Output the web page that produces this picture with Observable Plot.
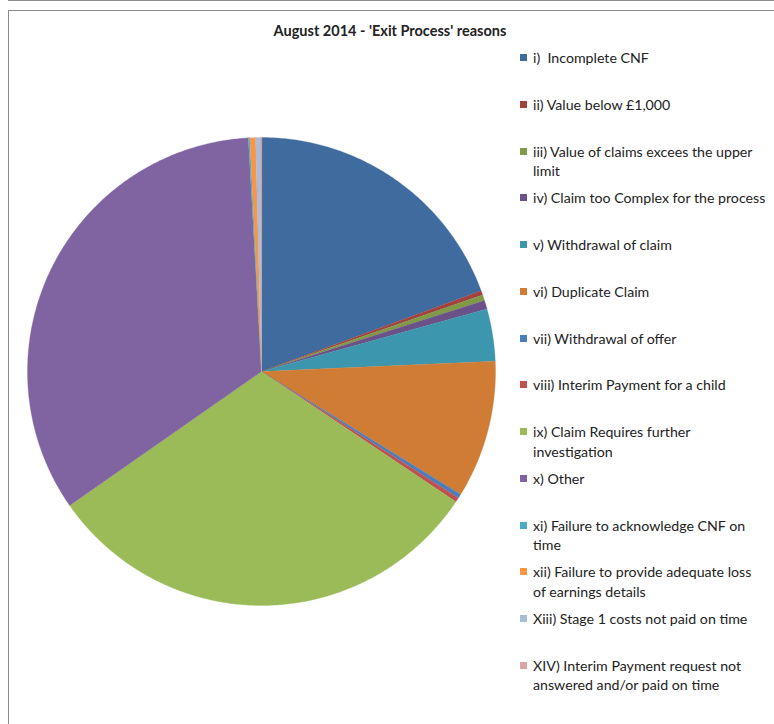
<!DOCTYPE html>
<html>
<head>
<meta charset="utf-8">
<script src="https://cdn.jsdelivr.net/npm/d3@7"></script>
<script src="https://cdn.jsdelivr.net/npm/@observablehq/plot@0.6"></script>
<style>
  html, body { margin: 0; padding: 0; background: #fff; }
  #wrap { position: relative; width: 774px; height: 724px; overflow: hidden; font-family: Lato, "Open Sans", sans-serif; color: #222; }
  .frame-top0 { position: absolute; left: 8px; top: 0; width: 766px; height: 0; border-top: 1px solid #8a8a8a; }
  .frame-top { position: absolute; left: 8px; top: 10px; width: 766px; height: 0; border-top: 1px solid #8a8a8a; }
  .frame-left { position: absolute; left: 8px; top: 10px; width: 0; height: 714px; border-left: 1px solid #8a8a8a; }
  #title { position: absolute; left: 0; width: 780px; top: 22px; text-align: center; font-weight: bold; font-size: 14.5px; }
  #pie { position: absolute; left: 21px; top: 131px; }
  .entry { position: absolute; left: 520px; font-size: 14.2px; line-height: 19.5px; }
  .entry .sw { position: absolute; left: 0; top: 6px; width: 7px; height: 7px; }
  .entry .tx { position: absolute; left: 13px; top: 0; white-space: pre; }
</style>
</head>
<body>
<div id="wrap">
  <div class="frame-top0"></div>
  <div class="frame-top"></div>
  <div class="frame-left"></div>
  <div id="title"></div>
  <div id="pie"></div>
  <div id="legend"></div>
</div>
<script>
const categories = [
  "i)  Incomplete CNF",
  "ii) Value below £1,000",
  "iii) Value of claims excees the upper\nlimit",
  "iv) Claim too Complex for the process",
  "v) Withdrawal of claim",
  "vi) Duplicate Claim",
  "vii) Withdrawal of offer",
  "viii) Interim Payment for a child",
  "ix) Claim Requires further\ninvestigation",
  "x) Other",
  "xi) Failure to acknowledge CNF on\ntime",
  "xii) Failure to provide adequate loss\nof earnings details",
  "Xiii) Stage 1 costs not paid on time",
  "XIV) Interim Payment request not\nanswered and/or paid on time"
];
const values = [19.4, 0.3, 0.4, 0.6, 3.6, 9.5, 0.3, 0.3, 30.9, 33.8, 0.1, 0.4, 0.3, 0.1];
const colors = ["#3F6B9F", "#A3423F", "#7F9B47", "#6A5289", "#3C97AE", "#D07C35",
                "#4A7EBB", "#C0504D", "#9BBB59", "#8064A2", "#4BACC6", "#F79646",
                "#A9BCD8", "#D9A7A6"];
const title = "August 2014 - 'Exit Process' reasons";
document.getElementById("title").textContent = title;

// Build slice polygons in a unit-circle data space (clockwise from 12 o'clock)
const total = d3.sum(values);
let acc = 0;
const features = values.map((v, i) => {
  const a0 = acc / total * 2 * Math.PI;
  acc += v;
  const a1 = acc / total * 2 * Math.PI;
  const n = Math.max(2, Math.ceil((a1 - a0) / (Math.PI / 360)));
  const ring = [[0, 0]];
  for (let k = 0; k <= n; k++) {
    const a = a0 + (a1 - a0) * k / n;
    ring.push([Math.sin(a), Math.cos(a)]);
  }
  ring.push([0, 0]);
  return {type: "Feature", properties: {name: categories[i], color: colors[i]}, geometry: {type: "Polygon", coordinates: [ring]}};
});
const circle = {type: "Polygon", coordinates: [d3.range(0, 361, 2).map(d => [Math.sin(d * Math.PI / 180), Math.cos(d * Math.PI / 180)])]};

const chart = Plot.plot({
  width: 480,
  height: 480,
  margin: 6,
  projection: {type: "reflect-y", domain: circle},
  marks: [
    Plot.geo(features, {fill: d => d.properties.color, stroke: d => d.properties.color, strokeWidth: 0.3})
  ]
});
document.getElementById("pie").appendChild(chart);

const legend = document.getElementById("legend");
categories.forEach((c, i) => {
  const e = document.createElement("div");
  e.className = "entry";
  e.style.top = (48 + i * 46.75) + "px";
  const sw = document.createElement("div");
  sw.className = "sw";
  sw.style.background = colors[i];
  const tx = document.createElement("div");
  tx.className = "tx";
  tx.textContent = c;
  e.appendChild(sw);
  e.appendChild(tx);
  legend.appendChild(e);
});
</script>
</body>
</html>
